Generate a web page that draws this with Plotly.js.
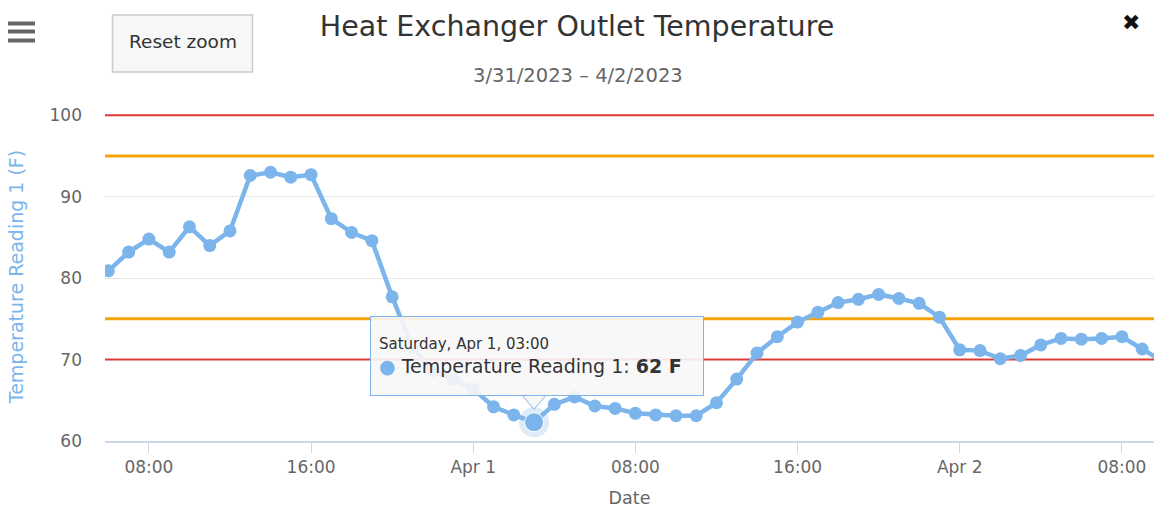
<!DOCTYPE html>
<html>
<head>
<meta charset="utf-8">
<script src="https://cdn.plot.ly/plotly-3.0.1.min.js"></script>
<style>
  html, body { margin: 0; padding: 0; background: #ffffff; }
  #chart { width: 1154px; height: 508px; }
</style>
</head>
<body>
<div id="chart"></div>
<script>
// ---------- data ----------
const times = [
  '2023-03-31 06:00','2023-03-31 07:00','2023-03-31 08:00','2023-03-31 09:00','2023-03-31 10:00',
  '2023-03-31 11:00','2023-03-31 12:00','2023-03-31 13:00','2023-03-31 14:00','2023-03-31 15:00',
  '2023-03-31 16:00','2023-03-31 17:00','2023-03-31 18:00','2023-03-31 19:00','2023-03-31 20:00',
  '2023-03-31 21:00','2023-03-31 22:00','2023-03-31 23:00',
  '2023-04-01 00:00','2023-04-01 01:00','2023-04-01 02:00','2023-04-01 03:00','2023-04-01 04:00',
  '2023-04-01 05:00','2023-04-01 06:00','2023-04-01 07:00','2023-04-01 08:00','2023-04-01 09:00',
  '2023-04-01 10:00','2023-04-01 11:00','2023-04-01 12:00','2023-04-01 13:00','2023-04-01 14:00',
  '2023-04-01 15:00','2023-04-01 16:00','2023-04-01 17:00','2023-04-01 18:00','2023-04-01 19:00',
  '2023-04-01 20:00','2023-04-01 21:00','2023-04-01 22:00','2023-04-01 23:00',
  '2023-04-02 00:00','2023-04-02 01:00','2023-04-02 02:00','2023-04-02 03:00','2023-04-02 04:00',
  '2023-04-02 05:00','2023-04-02 06:00','2023-04-02 07:00','2023-04-02 08:00','2023-04-02 09:00',
  '2023-04-02 10:00'
];
const temps = [
  80.9, 83.2, 84.8, 83.2, 86.3,
  84.0, 85.8, 92.6, 93.0, 92.4,
  92.7, 87.3, 85.6, 84.6, 77.7,
  71.5, 68.6, 67.6,
  66.4, 64.2, 63.2, 62.3, 64.5,
  65.4, 64.3, 64.0, 63.4, 63.2,
  63.1, 63.1, 64.7, 67.6, 70.8,
  72.8, 74.6, 75.8, 77.0, 77.4,
  78.0, 77.5, 76.9, 75.2,
  71.2, 71.1, 70.1, 70.5, 71.8,
  72.6, 72.5, 72.6, 72.8, 71.3,
  69.8
];
const seriesName = 'Temperature Reading 1';
const unit = 'F';
const alarmLimits = [100, 70];    // red lines
const warningLimits = [95, 75];   // orange lines
const xTickVals = ['2023-03-31 08:00','2023-03-31 16:00','2023-04-01 00:00','2023-04-01 08:00','2023-04-01 16:00','2023-04-02 00:00','2023-04-02 08:00'];
const xTickText = ['08:00','16:00','Apr 1','08:00','16:00','Apr 2','08:00'];
const yTickVals = [60, 70, 80, 90, 100];
const xRange = ['2023-03-31 05:50', '2023-04-02 09:35'];
const yRange = [60, 100.4];
const hoverIndex = 21;
const titleText = 'Heat Exchanger Outlet Temperature';
const subtitleText = '3/31/2023 – 4/2/2023';

// ---------- layout helpers ----------
const W = 1154, H = 508;
const M = {l: 105, r: 0, t: 112, b: 67};
const plotW = W - M.l - M.r, plotH = H - M.t - M.b;
const px = x => (x - M.l) / plotW;
const py = y => (H - M.b - y) / plotH;

const FONT = 'DejaVu Sans, Verdana, sans-serif';
const blue = '#7cb5ec';

// tooltip text built from data
const hd = new Date(times[hoverIndex].replace(' ', 'T'));
const days = ['Sunday','Monday','Tuesday','Wednesday','Thursday','Friday','Saturday'];
const months = ['Jan','Feb','Mar','Apr','May','Jun','Jul','Aug','Sep','Oct','Nov','Dec'];
const hh = String(hd.getHours()).padStart(2, '0') + ':' + String(hd.getMinutes()).padStart(2, '0');
const tipHeader = days[hd.getDay()] + ', ' + months[hd.getMonth()] + ' ' + hd.getDate() + ', ' + hh;
const tipText = '<span style="font-size:15px">' + tipHeader + '</span><br>' +
  '<span style="color:' + blue + '">●</span> ' + seriesName + ': <b>' + Math.round(temps[hoverIndex]) + ' ' + unit + '</b>';

const traces = [];
// threshold lines (drawn first, beneath the series)
alarmLimits.forEach(v => traces.push({
  x: xRange, y: [v, v], type: 'scatter', mode: 'lines',
  line: {color: '#dd3b36', width: 2}, hoverinfo: 'skip', showlegend: false
}));
warningLimits.forEach(v => traces.push({
  x: xRange, y: [v, v], type: 'scatter', mode: 'lines',
  line: {color: '#f5a30c', width: 3}, hoverinfo: 'skip', showlegend: false
}));
traces.push(
  {
    x: times, y: temps, type: 'scatter', mode: 'lines+markers',
    name: seriesName,
    line: {color: blue, width: 4.5},
    marker: {color: blue, size: 13},
    hoverinfo: 'skip'
  },
  { // halo of hovered point
    x: [times[hoverIndex]], y: [temps[hoverIndex]], type: 'scatter', mode: 'markers',
    marker: {color: 'rgba(124,181,236,0.25)', size: 30},
    hoverinfo: 'skip', showlegend: false
  },
  { // hovered point
    x: [times[hoverIndex]], y: [temps[hoverIndex]], type: 'scatter', mode: 'markers',
    marker: {color: blue, size: 19, line: {color: '#ffffff', width: 1}},
    hoverinfo: 'skip', showlegend: false
  }
);

const shapes = [];
// hamburger menu icon
[23.5, 31.5, 40.5].forEach(c => shapes.push({
  type: 'rect', xref: 'paper', yref: 'paper',
  x0: px(8), x1: px(35), y0: py(c - 2), y1: py(c + 2),
  fillcolor: '#666666', line: {width: 0}
}));
// reset zoom button
shapes.push({
  type: 'rect', xref: 'paper', yref: 'paper',
  x0: px(112.5), x1: px(252.5), y0: py(15), y1: py(72),
  fillcolor: '#f7f7f7', line: {color: '#cccccc', width: 1.5}
});
// tooltip pointer notch
shapes.push({
  type: 'path', xref: 'x', yref: 'y',
  xsizemode: 'pixel', ysizemode: 'pixel',
  xanchor: times[hoverIndex], yanchor: temps[hoverIndex],
  path: 'M -12,27 L 0,13 L 12,27 Z',
  fillcolor: 'rgba(247,247,247,0.9)', line: {color: blue, width: 1}, layer: 'above'
});

const annotations = [
  {
    text: subtitleText, xref: 'paper', yref: 'paper', x: px(578), y: py(75),
    xanchor: 'center', yanchor: 'middle', showarrow: false,
    font: {family: FONT, size: 19.5, color: '#666666'}
  },
  {
    text: 'Reset zoom', xref: 'paper', yref: 'paper', x: px(182.5), y: py(42),
    xanchor: 'center', yanchor: 'middle', showarrow: false,
    font: {family: FONT, size: 18.5, color: '#333333'}
  },
  {
    text: '✖', xref: 'paper', yref: 'paper', x: px(1131), y: py(22),
    xanchor: 'center', yanchor: 'middle', showarrow: false,
    font: {family: FONT, size: 22, color: '#111111'}
  },
  {
    text: tipText, x: times[hoverIndex], y: temps[hoverIndex], xref: 'x', yref: 'y',
    showarrow: true, arrowhead: 0, arrowwidth: 0.01, arrowcolor: 'rgba(0,0,0,0)',
    ax: 3, ay: -66, align: 'left', width: 316, height: 62,
    bgcolor: 'rgba(247,247,247,0.9)', bordercolor: blue, borderwidth: 1, borderpad: 8,
    font: {family: FONT, size: 19, color: '#333333'}
  }
];

const layout = {
  width: W, height: H,
  margin: M,
  paper_bgcolor: '#ffffff', plot_bgcolor: '#ffffff',
  showlegend: false,
  font: {family: FONT, color: '#666666'},
  title: {
    text: titleText, x: 0.5, xref: 'container', xanchor: 'center',
    y: 1 - 26 / H, yref: 'container', yanchor: 'middle',
    font: {family: FONT, size: 28.5, color: '#333333'}
  },
  xaxis: {
    type: 'date', range: xRange,
    tickmode: 'array', tickvals: xTickVals, ticktext: xTickText,
    ticks: 'outside', ticklen: 10, tickcolor: '#ccd6eb', tickwidth: 1,
    showgrid: false, zeroline: false,
    showline: true, linecolor: '#ccd6eb', linewidth: 2,
    tickfont: {family: FONT, size: 17, color: '#666666'},
    title: {text: 'Date', font: {family: FONT, size: 17.5, color: '#666666'}, standoff: 16},
    automargin: false, fixedrange: true
  },
  yaxis: {
    range: yRange, tickmode: 'array', tickvals: yTickVals,
    showgrid: true, gridcolor: '#e6e6e6', gridwidth: 1,
    zeroline: false, showline: false, ticks: '',
    ticklabelstandoff: 22,
    tickfont: {family: FONT, size: 17, color: '#666666'},
    title: {text: 'Temperature Reading 1 (F)', font: {family: FONT, size: 19, color: blue}, standoff: 20},
    automargin: false, fixedrange: true
  },
  shapes: shapes,
  annotations: annotations
};

Plotly.newPlot('chart', traces, layout, {displayModeBar: false, staticPlot: true});
</script>
</body>
</html>
